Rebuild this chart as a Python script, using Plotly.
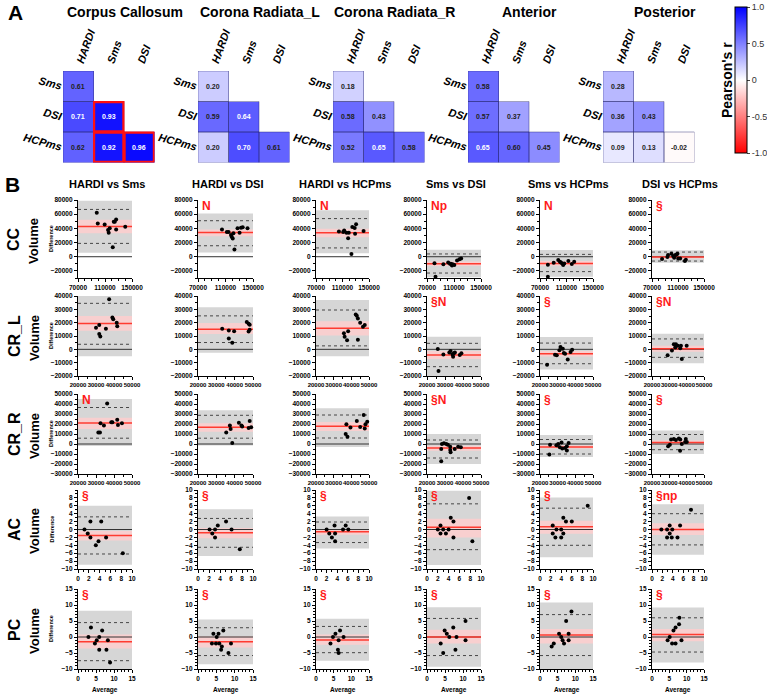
import plotly.graph_objects as go

W, H = 767, 695
FONT = "Arial"

# ---------------- Panel A data ----------------
regions = ["Corpus Callosum", "Corona Radiata_L", "Corona Radiata_R", "Anterior", "Posterior"]
mat_rows = ["Sms", "DSI", "HCPms"]
mat_cols = ["HARDI", "Sms", "DSI"]
r_cc = [[0.61, None, None], [0.71, 0.93, None], [0.62, 0.92, 0.96]]
r_crl = [[0.20, None, None], [0.59, 0.64, None], [0.20, 0.70, 0.61]]
r_crr = [[0.18, None, None], [0.58, 0.43, None], [0.52, 0.65, 0.58]]
r_ant = [[0.58, None, None], [0.57, 0.37, None], [0.65, 0.60, 0.45]]
r_post = [[0.28, None, None], [0.36, 0.43, None], [0.09, 0.13, -0.02]]
matrices = [r_cc, r_crl, r_crr, r_ant, r_post]
cc_strong = [(1, 1), (2, 1), (2, 2)]
r_ticks = [-1.0, -0.5, 0, 0.5, 1.0]
r_ticktext = ["-1.0", "-0.5", "0", "0.5", "1.0"]

# ---------------- Panel B data ----------------
comparisons = ["HARDI vs Sms", "HARDI vs DSI", "HARDI vs HCPms", "Sms vs DSI", "Sms vs HCPms", "DSI vs HCPms"]
row_names = ["CC", "CR_L", "CR_R", "AC", "PC"]

cc_avg = [
    [97800, 99300, 109500, 114500, 115500, 117000, 121500, 123000, 124500, 126500, 126500, 140000],
    [104900, 112000, 114500, 118000, 119000, 120500, 121500, 123000, 127500, 130500, 132500, 135000, 142000],
    [104600, 111000, 112500, 116000, 119500, 118500, 123500, 124800, 128400, 129000, 130500, 141800],
    [81100, 82600, 94300, 101400, 104000, 105400, 107000, 108000, 110500, 114500, 118000, 120600],
    [81900, 81900, 90700, 97500, 100000, 101600, 103500, 105000, 106600, 112800, 118000, 121600],
    [85500, 93700, 94700, 99900, 102600, 104100, 106100, 107700, 109200, 110300, 113300, 120600, 122100],
]
cc_diff = [
    [62000, 47000, 45600, 37600, 33800, 40000, 13200, 49300, 49300, 52600, 38500, 42300],
    [38500, 35000, 35000, 30500, 28200, 25800, 33000, 10300, 40000, 33800, 41000, 41400, 40000],
    [35700, 34700, 37100, 33800, 33800, 26200, 3800, 41900, 40500, 32400, 45700, 36200],
    [-9300, -28300, -10700, -8300, -9800, -9800, -12200, -10700, -11700, -5400, -3400, -2400],
    [-11300, -28200, -8500, -4700, -7000, -8000, -9400, -11700, -9400, -6100, -10300, -7000],
    [-3300, -500, 2400, 4300, 900, -1400, 2400, 3300, 4300, -2400, -2400, -6100, -4300],
]
cc_bias = [42600, 34000, 33800, -9800, -9400, -500]
cc_bias_ci = [(33000, 52000), (29000, 38500), (27600, 39500), (-13200, -6800), (-12700, -6100), (-2400, 900)]
cc_loa = [(18800, 66700), (15500, 50800), (12400, 53800), (-23000, 3900), (-21000, 3300), (-6100, 6600)]
cc_band = [(5600, 79000), (6100, 61000), (4800, 65700), (-29000, 9800), (-28200, 9400), (-8500, 9000)]
cc_flags = ["", "N", "N", "Np", "N", "§"]

crl_avg = [
    [30000, 31800, 31800, 32400, 35500, 39100, 39600, 41500, 41800, 37300],
    [33200, 36800, 36800, 38700, 39700, 46600, 47600, 48200, 47600, 48200],
    [35800, 36200, 37600, 38200, 42500, 43100, 43700, 43700, 45000, 46600, 47600],
    [26000, 26400, 29100, 32400, 33100, 34200, 34500, 34900, 35500, 38200, 39100],
    [24000, 28500, 29500, 31000, 31600, 32900, 33500, 34200, 35700, 37300, 38200],
    [29000, 31500, 32600, 33800, 33400, 34900, 36300, 36700, 37200, 40000],
]
crl_diff = [
    [16200, 18200, 11500, 9700, 15400, 23800, 22600, 20000, 17400, 37500],
    [15400, 14100, 8200, 4900, 13600, 20500, 19200, 18500, 13300, 14600],
    [12000, 9400, 6800, 13600, 26200, 25100, 23100, 7200, 20000, 16900, 18200],
    [200, -16300, -3800, -2300, -1300, -3800, -5500, -3000, -2300, -4300, -3000],
    [-11500, -4000, -4500, -750, 1700, 500, -2800, -3300, -7700, -2000, -250],
    [-4400, -800, 3900, 3900, 1300, 2600, 800, 2600, -7300, 2600],
]
crl_bias = [19300, 15000, 15900, -4250, -3300, 500]
crl_bias_ci = [(14000, 25000), (11500, 19700), (10300, 21000), (-7250, -1250), (-5300, -1300), (-1800, 2600)]
crl_loa = [(3800, 34500), (5100, 25100), (2600, 29500), (-13000, 4500), (-10800, 4700), (-6000, 7800)]
crl_band = [(-5100, 40000), (-2600, 31500), (-5100, 37000), (-21000, 9500), (-15200, 9200), (-10400, 11700)]
crl_flags = ["", "", "", "§N", "§", "§N"]

crr_avg = [
    [31300, 32200, 32500, 34400, 36200, 38500, 39100, 41800, 42200, 44400],
    [35400, 37400, 37800, 42300, 43700, 44100, 47600, 48200, 49000, 38700],
    [36800, 37800, 37200, 39500, 43100, 45000, 47000, 47600, 48000, 49000],
    [27900, 28300, 29400, 30700, 31600, 32900, 32900, 33100, 35400, 37300, 38800, 27900],
    [25300, 25700, 29300, 30300, 31200, 32200, 32600, 34200, 35200, 35200, 36200],
    [29300, 30300, 36200, 37200, 39100, 40100, 31000, 32600, 33800, 35500, 36300, 39500],
]
crr_diff = [
    [11600, 11600, 20800, 18400, 40600, 21800, 21800, 24200, 19100, 20800],
    [11600, 18400, 15000, 21200, 18400, 17400, 16000, 22900, 16700, 1000],
    [9900, 7200, 19800, 16400, 22900, 17100, 29000, 15400, 19800, 22200],
    [-5000, 0, 700, 0, -700, -6000, -2700, -8300, -5000, -2700, -3300, -17300],
    [-10400, -650, -1300, 0, -3300, 1600, -4600, -3900, -6500, -2300, 1000],
    [-2300, -700, -6700, 0, 2000, 2000, 4500, 5000, 4000, 5500, 4500, 5000],
]
crr_bias = [21000, 16700, 17700, -4000, -3000, 1500]
crr_bias_ci = [(15000, 26300), (12300, 20800), (13000, 22000), (-6700, -1700), (-4600, -1300), (-500, 3500)]
crr_loa = [(5800, 36500), (5800, 28700), (6000, 29000), (-14000, 4000), (-10000, 4500), (-5700, 9500)]
crr_band = [(-2000, 45000), (-1500, 33800), (-3000, 35800), (-20000, 10000), (-13000, 9000), (-10000, 13500)]
crr_flags = ["N", "", "", "§N", "§", "§"]

ac_avg = [
    [1.2, 1.8, 2.3, 2.3, 3.3, 3.8, 4.3, 5.2, 8.3],
    [2.1, 2.6, 3.1, 3.1, 3.6, 5.1, 6.1, 7.6],
    [2.0, 2.5, 3.0, 3.5, 3.6, 3.6, 5.1, 5.6, 6.1],
    [2.0, 2.5, 2.5, 3.0, 3.5, 4.0, 4.4, 4.9, 4.9, 7.8, 8.4],
    [2.4, 2.4, 2.9, 3.1, 4.0, 4.0, 4.4, 4.4, 4.9, 6.0, 9.0],
    [1.8, 2.9, 2.9, 3.4, 3.4, 3.8, 3.9, 4.9, 5.4, 7.5],
]
ac_diff = [
    [0, -1, 2, -2, -4, -3, 2, -2, -6],
    [0, -1, 0, -2, 1, 2, 0, -5],
    [0, -1, -2, 1, -1, -3, 0, 1, 0],
    [0, 1, -1, 0, -1, 0, 3, 2, -2, 8, -3],
    [1, -1, -2, 0, 0, -2, -1, 3, 2, 2, 6],
    [0, -2, 0, 1, -1, -2, 0, -2, 1, 5],
]
ac_bias = [-1.5, -0.8, -0.6, 0.6, 0.7, 0.0]
ac_bias_ci = [(-2.8, -0.4), (-2.2, 0.4), (-1.3, 0.0), (-2.0, 2.7), (-1.1, 2.2), (-1.4, 1.6)]
ac_loa = [(-6.2, 3.2), (-4.5, 2.8), (-3.3, 1.9), (-5.1, 6.5), (-4.0, 5.4), (-3.9, 4.0)]
ac_band = [(-8.9, 6.0), (-6.7, 5.1), (-4.8, 3.3), (-9.0, 9.8), (-7.0, 8.1), (-6.4, 6.4)]
ac_flags = ["§", "§", "§", "§", "§", "§np"]

pc_avg = [
    [2.9, 3.6, 4.7, 5.2, 5.9, 5.9, 6.7, 7.9, 8.3, 8.9],
    [3.8, 4.2, 4.9, 5.1, 5.6, 5.8, 6.3, 6.5, 6.9, 8.3, 9.0],
    [4.1, 4.8, 5.5, 6.2, 6.4, 6.4, 6.8, 7.8],
    [3.8, 4.5, 4.9, 5.5, 6.2, 7.3, 7.9, 8.2, 10.7, 10.7],
    [3.3, 3.9, 5.4, 6.0, 6.4, 6.8, 7.4, 8.1, 8.1, 8.9],
    [4.5, 5.1, 5.8, 6.2, 6.8, 6.8, 7.8, 7.9, 8.5],
]
pc_diff = [
    [0, 3, -2, -1, -4, 0, 2, -4, -1, -8],
    [-2, 1, -2, 0, 1, -2, -4, -3, 2, -5, -2],
    [-2, 0, 1, -4, -5, -1, 2, 0],
    [-2, -5, 2, 1, 0, 3, -4, 0, 5, -1],
    [-3, -2, 1, 0, -1, -2, 5, 1, -1, 8],
    [-1, 0, -2, 2, 3, -2, 4, 6, -1],
]
pc_bias = [-1.5, -1.45, -0.9, 0.0, 0.6, 0.8]
pc_bias_ci = [(-3.6, 0.8), (-3.3, 0.2), (-2.4, 0.8), (-2.0, 2.3), (-2.0, 2.5), (-1.3, 2.5)]
pc_loa = [(-7.4, 4.5), (-5.8, 2.9), (-4.9, 3.3), (-5.8, 5.8), (-5.8, 7.0), (-4.7, 6.0)]
pc_band = [(-10, 8.2), (-8.5, 5.5), (-7.4, 5.7), (-9.3, 9.3), (-10, 10.8), (-8, 9.2)]
pc_flags = ["§"] * 6

row_avg = [cc_avg, crl_avg, crr_avg, ac_avg, pc_avg]
row_diff = [cc_diff, crl_diff, crr_diff, ac_diff, pc_diff]
row_bias = [cc_bias, crl_bias, crr_bias, ac_bias, pc_bias]
row_bias_ci = [cc_bias_ci, crl_bias_ci, crr_bias_ci, ac_bias_ci, pc_bias_ci]
row_loa = [cc_loa, crl_loa, crr_loa, ac_loa, pc_loa]
row_band = [cc_band, crl_band, crr_band, ac_band, pc_band]
row_flags = [cc_flags, crl_flags, crr_flags, ac_flags, pc_flags]

# axis ranges / ticks per row
row_yrange = [[-30000, 80000], [-20000, 40000], [-30000, 50000], [-10, 10], [-10, 15]]
row_yticks = [list(range(-20000, 80001, 20000)), list(range(-20000, 40001, 10000)),
              list(range(-30000, 50001, 10000)), list(range(-10, 11, 2)), list(range(-10, 16, 5))]
ac_first_yticks = list(range(-10, 9, 2))
row_yminor = [10000, 5000, 5000, 1, 1]
row_xrange = [[70000, 150000], [20000, 50000], [20000, 50000], [0, 10], [0, 15]]
row_xticks = [[70000, 110000, 150000], [20000, 30000, 40000, 50000], [20000, 30000, 40000, 50000],
              list(range(0, 11, 2)), [0, 5, 10, 15]]
row_xminor = [10000, 5000, 5000, 1, 1]

# ---------------- layout geometry (pixels) ----------------
mat_left = [63, 198, 333, 468, 603]
mat_top = 71
cell = 30.5
col_px = [(78, 132), (198, 253), (316, 369), (427, 481), (540, 593), (652, 704)]
row_px = [(200, 278), (296, 376), (394, 474), (490, 569), (589, 669)]
row_label_y = [239, 336, 434, 529, 629]


def fx(p):
    return p / W


def fy(p):
    return 1 - p / H


def aname(n, k):
    return k if n == 1 else f"{k}{n}"


def lkey(n, k):
    return f"{k}axis" if n == 1 else f"{k}axis{n}"


def paper_text(x, y, text, size, angle=0, color="black"):
    return dict(x=fx(x), y=fy(y), xref="paper", yref="paper", text=text, showarrow=False,
                xanchor="center", yanchor="middle", textangle=angle,
                font=dict(family=FONT, size=size, color=color))


fig = go.Figure()
layout = dict(width=W, height=H, margin=dict(l=0, r=0, t=0, b=0, autoexpand=False),
              paper_bgcolor="white", plot_bgcolor="rgba(0,0,0,0)", showlegend=False,
              font=dict(family=FONT, color="black"))
shapes = []
ann = []

colorscale = [[0.0, "#ff0000"], [0.5, "#ffffff"], [1.0, "#0000ff"]]
label_font = dict(family=FONT, size=11, color="black", weight="bold", style="italic")

# ---------------- Panel A ----------------
for i, (title, z) in enumerate(zip(regions, matrices)):
    n = i + 1
    x0 = mat_left[i]
    x1 = x0 + 3 * cell
    y0 = mat_top
    y1 = y0 + 3 * cell
    fig.add_trace(go.Heatmap(
        z=z, x=mat_cols, y=mat_rows, zmin=-1, zmax=1, colorscale=colorscale,
        showscale=(i == 0), hoverinfo="skip", xaxis=aname(n, "x"), yaxis=aname(n, "y"),
        colorbar=dict(x=fx(735), xanchor="left", y=fy(7), yanchor="top", len=146 / H,
                      lenmode="fraction", thickness=12, outlinecolor="black", outlinewidth=1,
                      xpad=0, ypad=0,
                      tickvals=r_ticks, ticktext=r_ticktext, ticks="outside", ticklen=3,
                      tickfont=dict(family=FONT, size=9, color="#333")),
    ))
    layout[lkey(n, "x")] = dict(domain=[fx(x0), fx(x1)], anchor=aname(n, "y"), side="top",
                                tickangle=-70, showgrid=False, zeroline=False, ticks="",
                                range=[-0.5, 2.5], tickfont=label_font, fixedrange=True)
    layout[lkey(n, "y")] = dict(domain=[fy(y1), fy(y0)], anchor=aname(n, "x"),
                                range=[2.5, -0.5], showgrid=False, zeroline=False, ticks="",
                                tickangle=15, tickfont=label_font, fixedrange=True,
                                showticklabels=True)
    xr = "x" if n == 1 else f"x{n}"
    yr = "y" if n == 1 else f"y{n}"
    for r in range(3):
        for c in range(3):
            v = z[r][c]
            if v is None:
                continue
            shapes.append(dict(type="rect", xref=xr, yref=yr, x0=c - 0.5, x1=c + 0.5,
                               y0=r - 0.5, y1=r + 0.5, line=dict(color="rgba(40,40,110,0.55)", width=0.8)))
            ann.append(dict(x=mat_cols[c], y=mat_rows[r], xref=xr, yref=yr, text=f"{v:.2f}",
                            showarrow=False,
                            font=dict(family=FONT, size=7, weight="bold",
                                      color="white" if v > 0.63 else "#222")))
    if i == 0:
        for (r, c) in cc_strong:
            shapes.append(dict(type="rect", xref=xr, yref=yr, x0=c - 0.48, x1=c + 0.48,
                               y0=r - 0.48, y1=r + 0.48, line=dict(color="#ff1010", width=2.2)))
    ann.append(paper_text(x0 + 1.5 * cell + 16, 12, f"<b>{title}</b>", 14))

ann.append(paper_text(15, 12, "<b>A</b>", 21))
ann.append(paper_text(727, 80, "<b>Pearson's r</b>", 14, angle=-90))

# ---------------- Panel B ----------------
ann.append(paper_text(12, 184, "<b>B</b>", 21))
for c, title in enumerate(comparisons):
    cx = (col_px[c][0] + col_px[c][1]) / 2 + 2
    ann.append(paper_text(cx, 184, f"<b>{title}</b>", 11))

tickfont = dict(family=FONT, size=6.5, color="black", weight="bold")
for r in range(5):
    ytop, ybot = row_px[r]
    ann.append(paper_text(14, row_label_y[r], f"<b>{row_names[r]}</b>", 16, angle=-90))
    ann.append(paper_text(34, row_label_y[r] + 2, "<b>Volume</b>", 13, angle=-90))
    for c in range(6):
        n = 6 + r * 6 + c
        xl, xrgt = col_px[c]
        xa, ya = aname(n, "x"), aname(n, "y")
        fig.add_trace(go.Scatter(x=row_avg[r][c], y=row_diff[r][c], mode="markers",
                                 marker=dict(color="black", size=4), xaxis=xa, yaxis=ya,
                                 hoverinfo="skip", cliponaxis=False))
        yt = ac_first_yticks if (r == 3 and c == 0) else row_yticks[r]
        layout[lkey(n, "x")] = dict(
            domain=[fx(xl), fx(xrgt)], anchor=ya, range=row_xrange[r], tickvals=row_xticks[r],
            tickformat="d", tickangle=0, showline=True, linecolor="black", linewidth=1.3,
            ticks="outside", ticklen=3, tickwidth=1, tickcolor="black",
            tickfont=dict(family=FONT, size=6 if r in (1, 2) else 6.5, color="black", weight="bold"),
            showgrid=False, zeroline=False, fixedrange=True,
            minor=dict(ticks="outside", ticklen=1.5, tickwidth=0.8, tickcolor="black",
                       tick0=row_xrange[r][0], dtick=row_xminor[r], showgrid=False))
        layout[lkey(n, "y")] = dict(
            domain=[fy(ybot), fy(ytop)], anchor=xa, range=row_yrange[r], tickvals=yt,
            tickformat="d", showline=True, linecolor="black", linewidth=1.3, ticks="outside",
            ticklen=3, tickwidth=1, tickcolor="black", tickfont=tickfont, showgrid=False,
            zeroline=False, fixedrange=True,
            minor=dict(ticks="outside", ticklen=1.5, tickwidth=0.8, tickcolor="black",
                       tick0=row_yrange[r][0], dtick=row_yminor[r], showgrid=False))
        xd = f"{xa} domain"
        band = row_band[r][c]
        loa = row_loa[r][c]
        bci = row_bias_ci[r][c]
        b = row_bias[r][c]
        shapes.append(dict(type="rect", xref=xd, yref=ya, x0=0, x1=1, y0=band[0], y1=band[1],
                           fillcolor="#d6d6d6", line=dict(width=0), layer="below"))
        shapes.append(dict(type="rect", xref=xd, yref=ya, x0=0, x1=1, y0=bci[0], y1=bci[1],
                           fillcolor="#f8cfcf", line=dict(width=0), layer="below"))
        for lv in loa:
            shapes.append(dict(type="line", xref=xd, yref=ya, x0=0, x1=1, y0=lv, y1=lv,
                               line=dict(color="#222", width=0.8, dash="dot"), layer="below"))
        shapes.append(dict(type="line", xref=xd, yref=ya, x0=0, x1=1, y0=0, y1=0,
                           line=dict(color="#333", width=1), layer="below"))
        shapes.append(dict(type="line", xref=xd, yref=ya, x0=0, x1=1, y0=b, y1=b,
                           line=dict(color="#ff3b30", width=1.5), layer="below"))
        flag = row_flags[r][c]
        if flag:
            ann.append(dict(x=0.03, y=1.04, xref=xd, yref=f"{ya} domain", text=f"<b>{flag}</b>",
                            showarrow=False, xanchor="left", yanchor="top",
                            font=dict(family=FONT, size=12, color="#ff1a1a")))
        if c == 0:
            ann.append(paper_text(51, (ytop + ybot) / 2, "<b>Difference</b>", 5.5, angle=-90))
        if r == 4:
            ann.append(paper_text((xl + xrgt) / 2, 690, "<b>Average</b>", 6.5))

layout["shapes"] = shapes
layout["annotations"] = ann
fig.update_layout(**layout)
fig.write_html("out.html")
